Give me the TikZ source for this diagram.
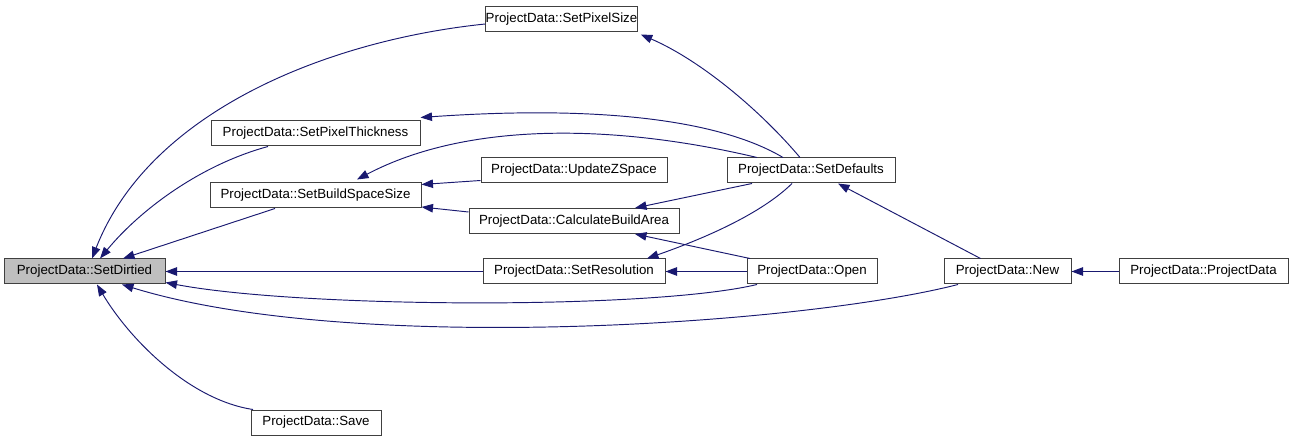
\documentclass[tikz,border=0pt]{standalone}
\usepackage{fontspec}
\setmainfont{Liberation Sans}
\usetikzlibrary{arrows.meta,calc}
\definecolor{edgeblue}{HTML}{191970}
\definecolor{hlgray}{HTML}{BFBFBF}
\tikzset{
  box/.style={draw=black!75, line width=1pt, fill=white, inner sep=0pt,
    minimum height=25pt, font=\fontsize{13.3}{15}\selectfont},
  edge/.style={draw=edgeblue, line width=0.95pt,
    -{Triangle[length=11.5pt,width=8.5pt]}},
}
\begin{document}
\begin{tikzpicture}[x=1pt,y=-1pt]
\useasboundingbox (0,0) rectangle (1293,443);
\node[box, fill=hlgray, minimum width=161pt] (sd) at (84.5,271.5) {ProjectData::SetDirtied};
\node[box, minimum width=149pt] (ps) at (561.5,19.5) {ProjectData::SetPixelSize};
\node[box, minimum width=209pt] (pt) at (315.5,133.5) {ProjectData::SetPixelThickness};
\node[box, minimum width=211pt] (bs) at (315.5,195.5) {ProjectData::SetBuildSpaceSize};
\node[box, minimum width=186pt] (uz) at (574,170.5) {ProjectData::UpdateZSpace};
\node[box, minimum width=210pt] (cba) at (574,221) {ProjectData::CalculateBuildArea};
\node[box, minimum width=182pt] (res) at (574,271.5) {ProjectData::SetResolution};
\node[box, minimum width=168pt] (def) at (811,170.5) {ProjectData::SetDefaults};
\node[box, minimum width=130pt] (op) at (812,271.5) {ProjectData::Open};
\node[box, minimum width=127pt] (new) at (1007.5,271.5) {ProjectData::New};
\node[box, minimum width=169pt] (pd) at (1203.5,271.5) {ProjectData::ProjectData};
\node[box, minimum width=130pt] (save) at (316,422.5) {ProjectData::Save};

% edges into SetDirtied
\draw[edge] ($(ps.west)+(0,4.5)$) .. controls (330,40) and (150,110) .. ($(sd.north)+(7.5,0)$);
\draw[edge] ($(pt.south)+(-47.5,0)$) .. controls (200,165) and (140,210) .. ($(sd.north)+(15.5,0)$);
\draw[edge] ($(bs.south)+(-40.5,0)$) -- ($(sd.north)+(38.5,0)$);
\draw[edge] (res.west) -- (sd.east);
\draw[edge] ($(op.south)+(-55,0)$) .. controls (650,310) and (300,308) .. ($(sd.south east)+(0,-2)$);
\draw[edge] ($(new.south)+(-49.5,0)$) .. controls (800,325) and (350,355) .. ($(sd.south)+(37.5,0)$);
\draw[edge] ($(save.north)+(-63,0)$) .. controls (190,400) and (130,340) .. ($(sd.south)+(12.5,0)$);

% SetDefaults callers
\draw[edge] ($(def.north)+(-11,0)$) .. controls (760,110) and (700,60) .. ($(ps.south east)+(3,2)$);
\draw[edge] ($(def.north)+(-28,0)$) .. controls (720,120) and (600,105) .. ($(pt.north east)+(0,-3)$);
\draw[edge] ($(def.north)+(-54,0)$) .. controls (620,125) and (470,120) .. ($(bs.north)+(41.5,-3)$);
\draw[edge] ($(def.south)+(-59,0)$) -- ($(cba.north)+(61,0)$);
\draw[edge] ($(def.south)+(-19,0)$) .. controls (760,215) and (700,240) .. ($(res.north)+(73,0)$);

% others
\draw[edge] ($(uz.west)+(0,10)$) -- ($(bs.east)+(0,-11)$);
\draw[edge] ($(cba.west)+(0,-9)$) -- ($(bs.east)+(0,11.5)$);
\draw[edge] ($(op.north)+(-62,0)$) -- ($(cba.south)+(61,0)$);
\draw[edge] (op.west) -- (res.east);
\draw[edge] ($(new.north)+(-27,0)$) -- ($(def.south)+(27,0)$);
\draw[edge] (pd.west) -- (new.east);
\end{tikzpicture}
\end{document}
